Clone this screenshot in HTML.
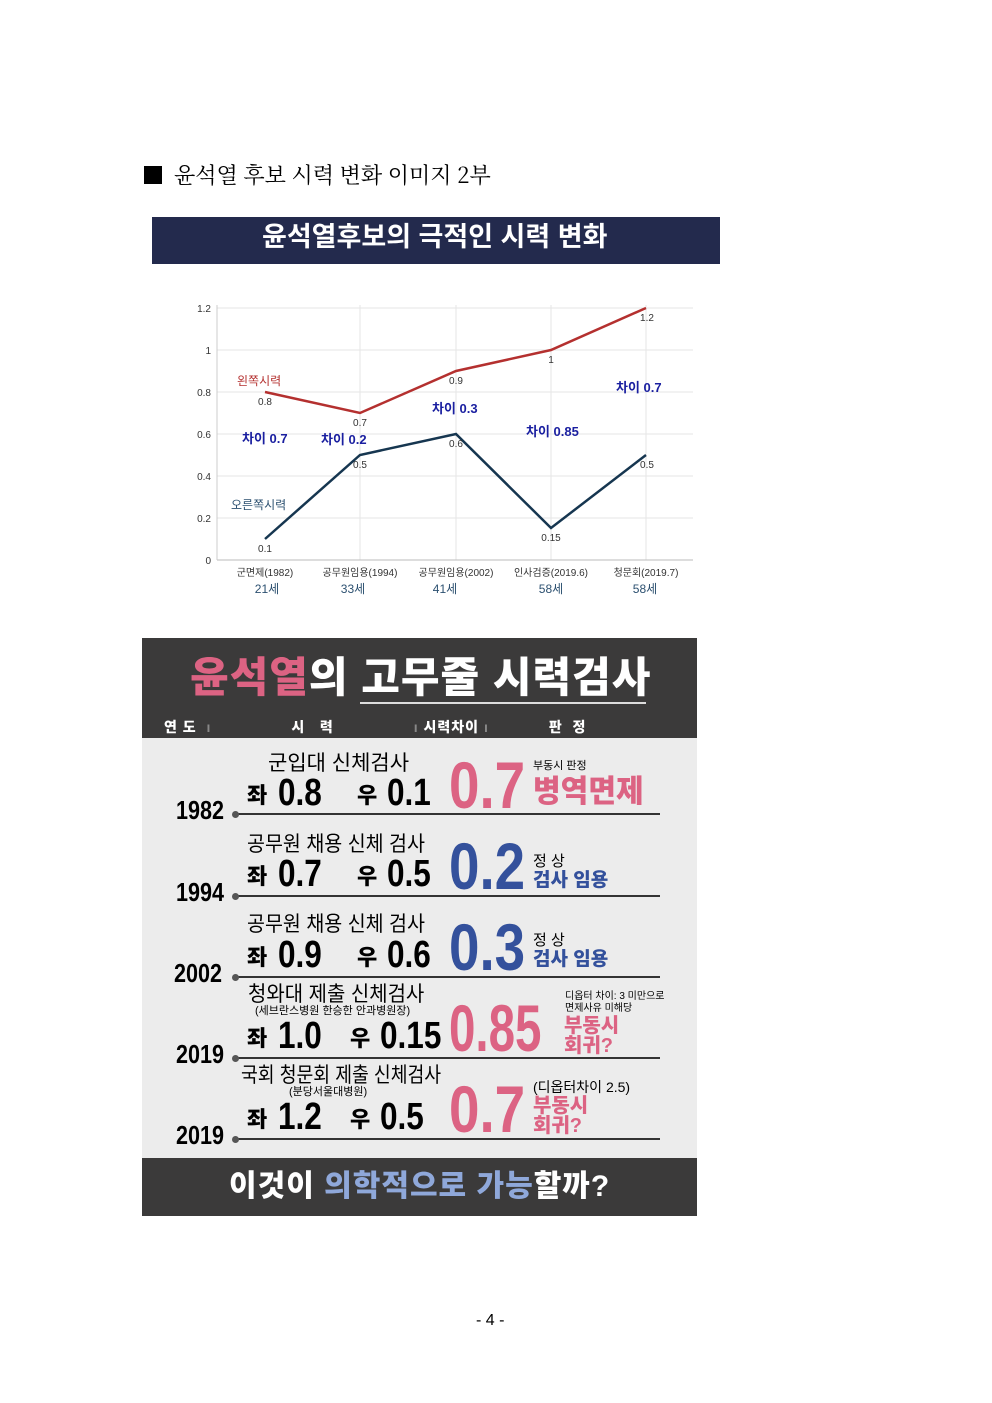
<!DOCTYPE html>
<html><head><meta charset="utf-8"><style>
body{margin:0;background:#fff}
#p{position:relative;width:992px;height:1403px;overflow:hidden;background:#fff;font-family:"Liberation Sans","Noto Sans CJK KR",sans-serif}
.t{position:absolute;white-space:nowrap;line-height:1;transform-origin:left top}
.b{font-weight:900}
.c{transform:scaleX(.72)}
.g{transform:scaleX(.83)}
.pk{color:#dc6383}.bl{color:#34519c}
.ln{position:absolute;left:237px;width:423px;height:2px;background:#333}
.dot{position:absolute;left:232px;width:7px;height:7px;border-radius:50%;background:#555}
</style></head><body><div id="p">
<div class="t" style="left:144px;top:166px;width:18px;height:18px;background:#000"></div>
<div class="t" style="left:174px;top:164px;font-size:22px;font-family:'Noto Serif CJK SC','Noto Sans CJK KR',serif">윤석열 후보 시력 변화 이미지 2부</div>
<div class="t" style="left:152px;top:217px;width:568px;height:47px;background:#232a4d"></div>
<div class="t" style="left:262px;top:224px;font-size:27px;color:#fff;font-weight:bold">윤석열후보의 극적인 시력 변화</div>

<svg class="t" style="left:0;top:0" width="992" height="620" font-family="Liberation Sans, Noto Sans CJK KR, sans-serif">
<g stroke="#e6e6e6" stroke-width="1">
<line x1="217" y1="308" x2="693" y2="308"/><line x1="217" y1="350" x2="693" y2="350"/><line x1="217" y1="392" x2="693" y2="392"/><line x1="217" y1="434" x2="693" y2="434"/><line x1="217" y1="476" x2="693" y2="476"/><line x1="217" y1="518" x2="693" y2="518"/>
<line x1="360" y1="305" x2="360" y2="560"/><line x1="456" y1="305" x2="456" y2="560"/><line x1="551" y1="305" x2="551" y2="560"/><line x1="646" y1="305" x2="646" y2="560"/>
</g>
<line x1="217" y1="560" x2="693" y2="560" stroke="#bbb"/><line x1="217" y1="305" x2="217" y2="560" stroke="#ccc"/>
<g font-size="10" fill="#333" text-anchor="end">
<text x="211" y="312">1.2</text><text x="211" y="354">1</text><text x="211" y="396">0.8</text><text x="211" y="438">0.6</text><text x="211" y="480">0.4</text><text x="211" y="522">0.2</text><text x="211" y="564">0</text></g>
<polyline points="265,392 360,413 456,371 551,350 646,308" fill="none" stroke="#b4302f" stroke-width="2.5"/>
<polyline points="265,539 360,455 456,434 551,528 646,455" fill="none" stroke="#163650" stroke-width="2.5"/>
<g font-size="10" fill="#333" text-anchor="middle">
<text x="265" y="405">0.8</text><text x="360" y="426">0.7</text><text x="456" y="384">0.9</text><text x="551" y="363">1</text><text x="647" y="321">1.2</text>
<text x="265" y="552">0.1</text><text x="360" y="468">0.5</text><text x="456" y="447">0.6</text><text x="551" y="541">0.15</text><text x="647" y="468">0.5</text>
<text x="265" y="576">군면제(1982)</text><text x="360" y="576">공무원임용(1994)</text><text x="456" y="576">공무원임용(2002)</text><text x="551" y="576">인사검증(2019.6)</text><text x="646" y="576">청문회(2019.7)</text></g>
<g font-size="12" fill="#2c5070" text-anchor="middle"><text x="267" y="593">21세</text><text x="353" y="593">33세</text><text x="445" y="593">41세</text><text x="551" y="593">58세</text><text x="645" y="593">58세</text></g>
<text x="237" y="385" font-size="12" fill="#b4302f">왼쪽시력</text>
<text x="231" y="509" font-size="12" fill="#2c5070">오른쪽시력</text>
<g font-size="13" font-weight="bold" fill="#1a1fa0"><text x="242" y="443">차이 0.7</text><text x="321" y="444">차이 0.2</text><text x="432" y="413">차이 0.3</text><text x="526" y="436">차이 0.85</text><text x="616" y="392">차이 0.7</text></g>
</svg>

<div class="t" style="left:142px;top:638px;width:555px;height:100px;background:#3b3a3a"></div>
<div class="t" style="left:142px;top:738px;width:555px;height:420px;background:#ececec"></div>
<div class="t" style="left:142px;top:1158px;width:555px;height:58px;background:#3b3a3a"></div>
<div class="t b" style="left:190px;top:657px;font-size:42px;color:#fff;letter-spacing:1px"><span class="pk">윤석열</span>의 고무줄 시력검사</div>
<div class="t" style="left:360px;top:702px;width:286px;height:2px;background:#ddd"></div>
<div class="t b" style="left:164px;top:720px;font-size:14px;color:#fff;letter-spacing:1px">연 도 &nbsp;<span style="color:#888">ı</span><span style="margin-left:80px">시 &nbsp; 력</span><span style="margin-left:80px;color:#888">ı</span> 시력차이 <span style="color:#888">ı</span><span style="margin-left:60px">판 &nbsp;정</span></div>

<div class="ln" style="top:813px"></div><div class="dot" style="top:811px"></div>
<div class="ln" style="top:895px"></div><div class="dot" style="top:893px"></div>
<div class="ln" style="top:976px"></div><div class="dot" style="top:974px"></div>
<div class="ln" style="top:1057px"></div><div class="dot" style="top:1055px"></div>
<div class="ln" style="top:1138px"></div><div class="dot" style="top:1136px"></div>

<div class="t b g" style="left:176px;top:797px;font-size:26px">1982</div>
<div class="t b g" style="left:176px;top:879px;font-size:26px">1994</div>
<div class="t b g" style="left:174px;top:960px;font-size:26px">2002</div>
<div class="t b g" style="left:176px;top:1041px;font-size:26px">2019</div>
<div class="t b g" style="left:176px;top:1122px;font-size:26px">2019</div>

<div class="t" style="left:268px;top:753px;font-size:21px">군입대 신체검사</div>
<div class="t" style="left:247px;top:834px;font-size:21px;transform:scaleX(.93)">공무원 채용 신체 검사</div>
<div class="t" style="left:247px;top:914px;font-size:21px;transform:scaleX(.93)">공무원 채용 신체 검사</div>
<div class="t" style="left:248px;top:984px;font-size:21px;transform:scaleX(.95)">청와대 제출 신체검사</div>
<div class="t" style="left:255px;top:1006px;font-size:11px">(세브란스병원 한승한 안과병원장)</div>
<div class="t" style="left:241px;top:1065px;font-size:21px;transform:scaleX(.87)">국회 청문회 제출 신체검사</div>
<div class="t" style="left:289px;top:1087px;font-size:11px">(분당서울대병원)</div>

<div class="t b" style="left:247px;top:785px;font-size:22px">좌</div><div class="t b g" style="left:278px;top:774px;font-size:38px">0.8</div>
<div class="t b" style="left:357px;top:785px;font-size:22px">우</div><div class="t b g" style="left:387px;top:774px;font-size:38px">0.1</div>
<div class="t b" style="left:247px;top:866px;font-size:22px">좌</div><div class="t b g" style="left:278px;top:855px;font-size:38px">0.7</div>
<div class="t b" style="left:357px;top:866px;font-size:22px">우</div><div class="t b g" style="left:387px;top:855px;font-size:38px">0.5</div>
<div class="t b" style="left:247px;top:947px;font-size:22px">좌</div><div class="t b g" style="left:278px;top:936px;font-size:38px">0.9</div>
<div class="t b" style="left:357px;top:947px;font-size:22px">우</div><div class="t b g" style="left:387px;top:936px;font-size:38px">0.6</div>
<div class="t b" style="left:247px;top:1028px;font-size:22px">좌</div><div class="t b g" style="left:278px;top:1017px;font-size:38px">1.0</div>
<div class="t b" style="left:350px;top:1028px;font-size:22px">우</div><div class="t b g" style="left:380px;top:1017px;font-size:38px">0.15</div>
<div class="t b" style="left:247px;top:1109px;font-size:22px">좌</div><div class="t b g" style="left:278px;top:1098px;font-size:38px">1.2</div>
<div class="t b" style="left:350px;top:1109px;font-size:22px">우</div><div class="t b g" style="left:380px;top:1098px;font-size:38px">0.5</div>

<div class="t b g pk" style="left:449px;top:752px;font-size:66px">0.7</div>
<div class="t b g bl" style="left:449px;top:833px;font-size:66px">0.2</div>
<div class="t b g bl" style="left:449px;top:914px;font-size:66px">0.3</div>
<div class="t b c pk" style="left:449px;top:995px;font-size:66px">0.85</div>
<div class="t b g pk" style="left:449px;top:1076px;font-size:66px">0.7</div>

<div class="t" style="left:533px;top:761px;font-size:11px">부동시 판정</div>
<div class="t b pk" style="left:533px;top:776px;font-size:31px;transform:scaleX(.97)">병역면제</div>
<div class="t" style="left:533px;top:854px;font-size:15px">정 상</div>
<div class="t b bl" style="left:533px;top:871px;font-size:19px">검사 임용</div>
<div class="t" style="left:533px;top:933px;font-size:15px">정 상</div>
<div class="t b bl" style="left:533px;top:950px;font-size:19px">검사 임용</div>
<div class="t" style="left:565px;top:991px;font-size:10px;line-height:12px">디옵터 차이: 3 미만으로<br>면제사유 미해당</div>
<div class="t b pk" style="left:564px;top:1016px;font-size:20px;line-height:20px">부동시<br>회귀?</div>
<div class="t" style="left:533px;top:1080px;font-size:14px">(디옵터차이 2.5)</div>
<div class="t b pk" style="left:533px;top:1096px;font-size:20px;line-height:20px">부동시<br>회귀?</div>

<div class="t b" style="left:229px;top:1172px;font-size:30px;color:#fff;letter-spacing:1px">이것이 <span style="color:#8fa8da">의학적으로 가능</span>할까?</div>

<div class="t" style="left:476px;top:1313px;font-size:16px">- 4 -</div>
</div></body></html>
